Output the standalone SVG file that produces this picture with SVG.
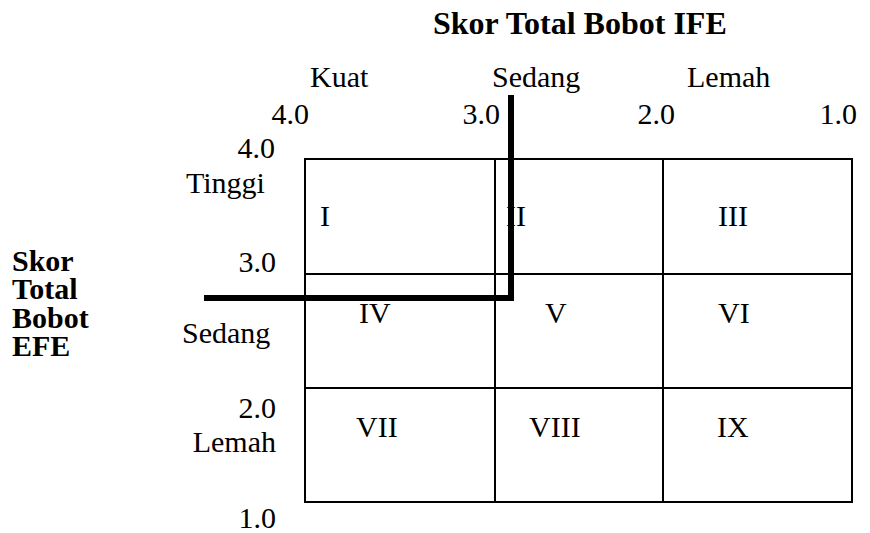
<svg xmlns="http://www.w3.org/2000/svg" width="870" height="533" viewBox="0 0 870 533">
<style>
text{font-family:"Liberation Serif","Times New Roman",serif;font-size:30px;fill:#000}
.b{font-weight:bold;font-size:32px}
.bl{font-weight:bold;font-size:30px}
.e{text-anchor:end}
.grid{fill:none;stroke:#000;stroke-width:2}
.thick{fill:none;stroke:#000;stroke-width:6;stroke-linejoin:miter}
</style>
<rect width="870" height="533" fill="#fff"/>
<g id="title-ife"><text class="b" x="433" y="34">Skor Total Bobot IFE</text></g>
<g id="ife-axis">
<text x="310" y="87">Kuat</text>
<text x="492" y="87">Sedang</text>
<text x="687" y="87">Lemah</text>
<text class="e" x="309" y="124">4.0</text>
<text class="e" x="500" y="124">3.0</text>
<text class="e" x="675" y="124">2.0</text>
<text class="e" x="857" y="124">1.0</text>
</g>
<g id="title-efe">
<text class="bl" x="12" y="271">Skor<tspan x="12" dy="28.4">Total</tspan><tspan x="12" dy="28.4">Bobot</tspan><tspan x="12" dy="28.4">EFE</tspan></text>
</g>
<g id="efe-axis">
<text class="e" x="275" y="158">4.0</text>
<text x="186" y="193">Tinggi</text>
<text class="e" x="276" y="272">3.0</text>
<text x="182" y="343">Sedang</text>
<text class="e" x="276" y="418">2.0</text>
<text class="e" x="276" y="452">Lemah</text>
<text class="e" x="276" y="528">1.0</text>
</g>
<g id="grid">
<rect class="grid" x="305" y="159" width="547" height="343"/>
<line class="grid" x1="495" y1="159" x2="495" y2="502"/>
<line class="grid" x1="663" y1="159" x2="663" y2="502"/>
<line class="grid" x1="305" y1="274" x2="852" y2="274"/>
<line class="grid" x1="305" y1="388" x2="852" y2="388"/>
</g>
<g id="cell-I"><text x="320" y="226">I</text></g>
<g id="cell-II"><text x="506" y="226">II</text></g>
<g id="cell-III"><text x="718" y="226">III</text></g>
<g id="cell-IV"><text x="359" y="323">IV</text></g>
<g id="cell-V"><text x="545" y="323">V</text></g>
<g id="cell-VI"><text x="718" y="323">VI</text></g>
<g id="cell-VII"><text x="356" y="437">VII</text></g>
<g id="cell-VIII"><text x="529" y="437">VIII</text></g>
<g id="cell-IX"><text x="717" y="437">IX</text></g>
<g id="connectors">
<path class="thick" d="M204 298 H511 V95"/>
</g>
</svg>
